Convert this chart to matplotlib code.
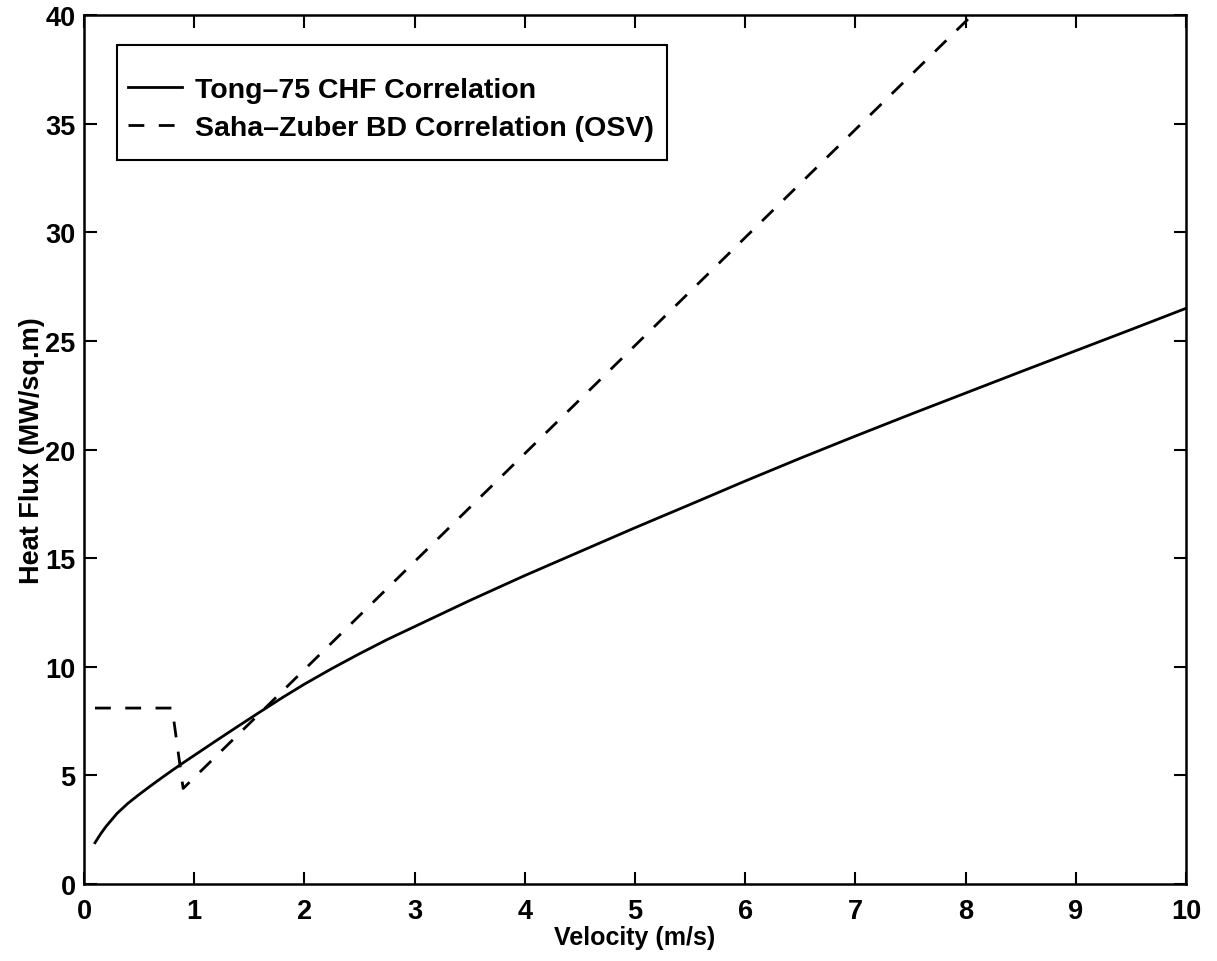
import matplotlib
matplotlib.use("Agg")
import matplotlib.pyplot as plt
from matplotlib.patches import Rectangle

plt.rcParams['font.family'] = ['Liberation Sans', 'DejaVu Sans']
plt.rcParams['font.weight'] = 'bold'
plt.rcParams['axes.labelweight'] = 'bold'

# Tong-75 CHF correlation
tong_v = [0.1, 0.15, 0.2, 0.3, 0.4, 0.5, 0.6, 0.7, 0.8, 0.9, 1.0, 1.2, 1.4,
          1.6, 1.8, 2.0, 2.25, 2.5, 2.75, 3.0, 3.5, 4.0, 4.5, 5.0, 5.5, 6.0,
          6.5, 7.0, 7.5, 8.0, 8.5, 9.0, 9.5, 10.0]
tong_q = [1.9, 2.3, 2.65, 3.25, 3.72, 4.12, 4.5, 4.87, 5.23, 5.58, 5.92, 6.6,
          7.27, 7.93, 8.58, 9.2, 9.92, 10.6, 11.25, 11.85, 13.05, 14.2, 15.3,
          16.4, 17.47, 18.55, 19.6, 20.62, 21.62, 22.6, 23.58, 24.55, 25.52, 26.5]

# Saha-Zuber BD correlation (OSV)
sz_v = [0.1, 0.8, 0.9, 8.1]
sz_q = [8.1, 8.1, 4.4, 40.2]

xticks = list(range(0, 11))
yticks = list(range(0, 45, 5))

fig = plt.figure(figsize=(12.17, 9.62), dpi=100)
ax = fig.add_axes([0.069, 0.080, 0.9055, 0.9033])

ax.plot(tong_v, tong_q, color='black', linewidth=2.0, label='Tong\u201375 CHF Correlation')
ax.plot(sz_v, sz_q, color='black', linewidth=2.0, linestyle=(0, (5.7, 5.2)),
        label='Saha\u2013Zuber BD Correlation (OSV)')

ax.set_xlim(0, 10)
ax.set_ylim(0, 40)
ax.set_xticks(xticks)
ax.set_yticks(yticks)
ax.tick_params(direction='in', length=9, width=1.5, labelsize=19.5,
               top=True, right=True)
ax.tick_params(axis='x', pad=10)
ax.tick_params(axis='y', pad=6)
for s in ax.spines.values():
    s.set_linewidth(1.8)

ax.set_xlabel('Velocity (m/s)', fontsize=18, labelpad=1)
ax.set_ylabel('Heat Flux (MW/sq.m)', fontsize=19.5, labelpad=0)

leg = ax.legend(loc='upper left', bbox_to_anchor=(0.0399, 0.929), fontsize=20.5,
                frameon=False, handlelength=1.9, handletextpad=0.45,
                labelspacing=0.42, borderpad=0.0, borderaxespad=0.0)

# draw a MATLAB-style box around the legend entries
fig.canvas.draw()
bb = leg.get_window_extent()
inv = fig.transFigure.inverted()
x0, y0 = inv.transform((bb.x0 - 11, bb.y0 - 19))
x1, y1 = inv.transform((bb.x1 + 13, bb.y1 + 32))
fig.add_artist(Rectangle((x0, y0), x1 - x0, y1 - y0, transform=fig.transFigure,
                         fill=False, edgecolor='black', linewidth=1.5))

fig.savefig('out.png', dpi=100)
